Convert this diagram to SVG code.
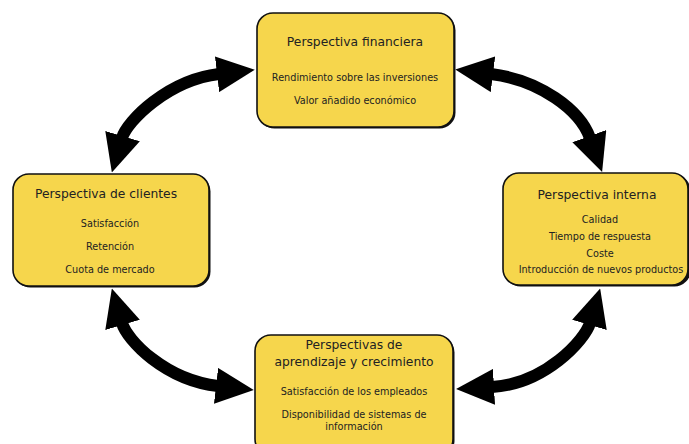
<svg xmlns="http://www.w3.org/2000/svg" width="689" height="444" viewBox="0 0 689 444">
  <style>
    .box { fill: #f6d64c; stroke: #111; stroke-width: 1.6; }
    .shadow { fill: #111; }
    .title { font-family: "DejaVu Sans", Verdana, sans-serif; font-size: 12.3px; fill: #222; text-anchor: middle; }
    .item { font-family: "DejaVu Sans", Verdana, sans-serif; font-size: 9.7px; fill: #222; text-anchor: middle; }
    .link { fill: none; stroke: #000; stroke-width: 12; }
  </style>
  <defs>
    <marker id="head" viewBox="0 0 38 36" markerWidth="38" markerHeight="36" refX="2" refY="18" markerUnits="userSpaceOnUse" orient="auto-start-reverse">
      <path d="M0,0 L38,18 L0,36 Z" fill="#000"/>
    </marker>
  </defs>
  <rect width="689" height="444" fill="#fff"/>

  <!-- connectors: double-headed curved arrows between the four perspectives -->
  <g id="connectors">
    <path class="link" d="M122,138 C127,121 168,80 219,74" marker-start="url(#head)" marker-end="url(#head)"/>
    <path class="link" d="M491,74 C540,80 580,110 590,138" marker-start="url(#head)" marker-end="url(#head)"/>
    <path class="link" d="M122,323 C127,340 165,380 218,386" marker-start="url(#head)" marker-end="url(#head)"/>
    <path class="link" d="M590,323 C585,340 545,384 492,387" marker-start="url(#head)" marker-end="url(#head)"/>
  </g>

  <g id="financiera">
    <rect class="shadow" x="258.5" y="14.5" width="197" height="114" rx="16"/>
    <rect class="box" x="257" y="13" width="197" height="114" rx="16"/>
    <text class="title" x="355" y="46">Perspectiva financiera</text>
    <text class="item" x="355" y="80.5">Rendimiento sobre las inversiones</text>
    <text class="item" x="355" y="103.5">Valor añadido económico</text>
  </g>

  <g id="clientes">
    <rect class="shadow" x="14.5" y="175.5" width="196" height="112" rx="16"/>
    <rect class="box" x="13" y="174" width="196" height="112" rx="16"/>
    <text class="title" x="106" y="198">Perspectiva de clientes</text>
    <text class="item" x="110" y="227">Satisfacción</text>
    <text class="item" x="110" y="250">Retención</text>
    <text class="item" x="110" y="273">Cuota de mercado</text>
  </g>

  <g id="interna">
    <rect class="shadow" x="504.5" y="174.5" width="186" height="112" rx="16"/>
    <rect class="box" x="503" y="173" width="185" height="112" rx="16"/>
    <text class="title" x="597" y="199">Perspectiva interna</text>
    <text class="item" x="600" y="223">Calidad</text>
    <text class="item" x="600" y="240">Tiempo de respuesta</text>
    <text class="item" x="600" y="257">Coste</text>
    <text class="item" x="601" y="273">Introducción de nuevos productos</text>
  </g>

  <g id="aprendizaje">
    <rect class="shadow" x="256.5" y="336.5" width="198" height="120" rx="16"/>
    <rect class="box" x="255" y="335" width="198" height="120" rx="16"/>
    <text class="title" x="354" y="348.5">Perspectivas de</text>
    <text class="title" x="354" y="366">aprendizaje y crecimiento</text>
    <text class="item" x="354" y="394.5">Satisfacción de los empleados</text>
    <text class="item" x="354" y="417.5">Disponibilidad de sistemas de</text>
    <text class="item" x="354" y="429.5">información</text>
  </g>
</svg>
